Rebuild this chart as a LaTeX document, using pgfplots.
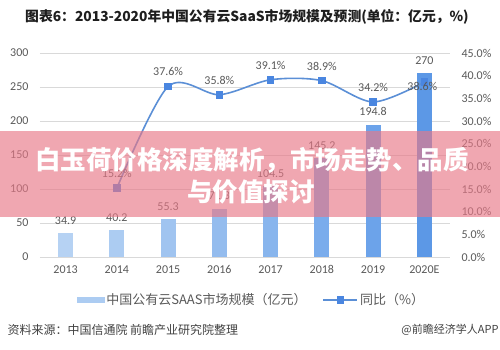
\documentclass[border=0pt]{standalone}
\usepackage{pgfplots}
\pgfplotsset{compat=1.18}
\usepackage{fontspec}
\setmainfont{Carlito}
\newfontfamily\cjk{Noto Sans CJK SC}
\definecolor{lblgray}{RGB}{89,89,89}
\definecolor{gridgray}{RGB}{217,217,217}
\definecolor{lineblue}{RGB}{91,143,214}
\definecolor{markblue}{RGB}{74,134,224}
\definecolor{b0}{RGB}{182,210,243}
\definecolor{b1}{RGB}{172,204,242}
\definecolor{b2}{RGB}{160,196,240}
\definecolor{b3}{RGB}{148,188,238}
\definecolor{b4}{RGB}{136,181,237}
\definecolor{b5}{RGB}{122,172,236}
\definecolor{b6}{RGB}{108,163,234}
\definecolor{b7}{RGB}{92,152,230}
\definecolor{banner}{RGB}{232,120,135}
\begin{document}
\begin{tikzpicture}
\path[use as bounding box] (0pt,0pt) rectangle (500pt,350pt);
\pgfplotsset{
  common/.style={
    at={(40pt,93pt)}, anchor=south west, scale only axis,
    width=410pt, height=204pt,
    xmin=-0.5, xmax=7.5, ymin=0,
    axis line style={draw=none},
    major tick length=0pt,
    /pgf/number format/assume math mode=true,
    tick label style={font=\fontsize{12}{14}\selectfont, text=lblgray},
  }
}
\begin{axis}[common,
  ymax=300, ytick={0,50,...,300},
  xtick={0,...,7},
  xticklabels={2013,2014,2015,2016,2017,2018,2019,2020E},
  xticklabel style={yshift=-5pt},
  yticklabel style={xshift=-8pt},
  ymajorgrids, grid style={color=gridgray, line width=0.8pt},
  nodes near coords,
  nodes near coords style={font=\fontsize{12}{14}\selectfont, text=lblgray, yshift=5pt},
  every axis plot/.append style={ybar, bar width=15pt, bar shift=0pt, draw=none},
]
\addplot[fill=b0] coordinates {(0,34.9)};
\addplot[fill=b1] coordinates {(1,40.2)};
\addplot[fill=b2] coordinates {(2,55.3)};
\addplot[fill=b3] coordinates {(3,71.3)};
\addplot[fill=b4] coordinates {(4,104.5)};
\addplot[fill=b5] coordinates {(5,145.2)};
\addplot[fill=b6] coordinates {(6,194.8)};
\addplot[fill=b7] coordinates {(7,270)};
\end{axis}
\begin{axis}[common,
  ymax=45, ytick={0,5,...,45},
  xtick=\empty,
  axis y line*=right,
  yticklabel style={xshift=8pt},
  yticklabel={\pgfmathprintnumber[fixed,fixed zerofill,precision=1]{\tick}\%},
  legend style={at={(0.516,-0.21)}, anchor=center, draw=none, fill=none,
    legend columns=2, font=\cjk\fontsize{13}{15}\selectfont, text=lblgray,
    /tikz/every even column/.append style={column sep=14pt}},
]
\addlegendimage{legend image code/.code={\fill[b1] (0pt,-2.5pt) rectangle (27pt,2.5pt);}}
\addlegendentry{中国公有云SAAS市场规模（亿元）}
\addplot[color=lineblue, line width=1.6pt, smooth, tension=0.5,
  mark=square*, mark size=3pt, mark options={fill=markblue, draw=markblue},
  legend image code/.code={\draw[line width=1.6pt, lineblue] (0pt,0pt) -- (34pt,0pt);
    \fill[markblue] (14pt,-3pt) rectangle (20pt,3pt);}]
  coordinates {(1,15.2) (2,37.6) (3,35.8) (4,39.1) (5,38.9) (6,34.2) (7,38.6)};
\addlegendentry{同比（\%）}
\addplot[draw=none, forget plot, nodes near coords,
  point meta=explicit symbolic,
  nodes near coords style={font=\fontsize{12}{14}\selectfont, text=lblgray, yshift=7pt}]
  coordinates {(1,15.2) [15.2\%] (2,37.6) [37.6\%] (3,35.8) [35.8\%] (4,39.1) [39.1\%] (5,38.9) [38.9\%] (6,34.2) [34.2\%]};
\addplot[draw=none, forget plot, nodes near coords,
  point meta=explicit symbolic,
  nodes near coords style={font=\fontsize{12}{14}\selectfont, text=lblgray, anchor=center, yshift=-4pt, xshift=-2pt}]
  coordinates {(7,38.6) [38.6\%]};
\end{axis}
% title
\node[font=\cjk\bfseries\fontsize{13.8}{16}\selectfont, text={rgb,255:red,30;green,30;blue,30}] at (247pt,333pt)
  {图表6：2013-2020年中国公有云SaaS市场规模及预测(单位：亿元，\%)};
% source
\node[anchor=west, font=\cjk\fontsize{12}{14}\selectfont, text={rgb,255:red,64;green,64;blue,64}] at (4pt,20pt)
  {资料来源：中国信通院 前瞻产业研究院整理};
\node[anchor=east, font=\cjk\fontsize{11}{13}\selectfont, text={rgb,255:red,64;green,64;blue,64}] at (502pt,20pt)
  {@前瞻经济学人APP};
% banner overlay
\fill[banner, opacity=0.65] (0pt,133pt) rectangle (500pt,219pt);
\node[font=\cjk\bfseries\fontsize{25.5}{30}\selectfont, text=white] at (252pt,190pt)
  {白玉荷价格深度解析，市场走势、品质};
\node[font=\cjk\bfseries\fontsize{25.5}{30}\selectfont, text=white] at (251pt,158pt)
  {与价值探讨};
\end{tikzpicture}
\end{document}
